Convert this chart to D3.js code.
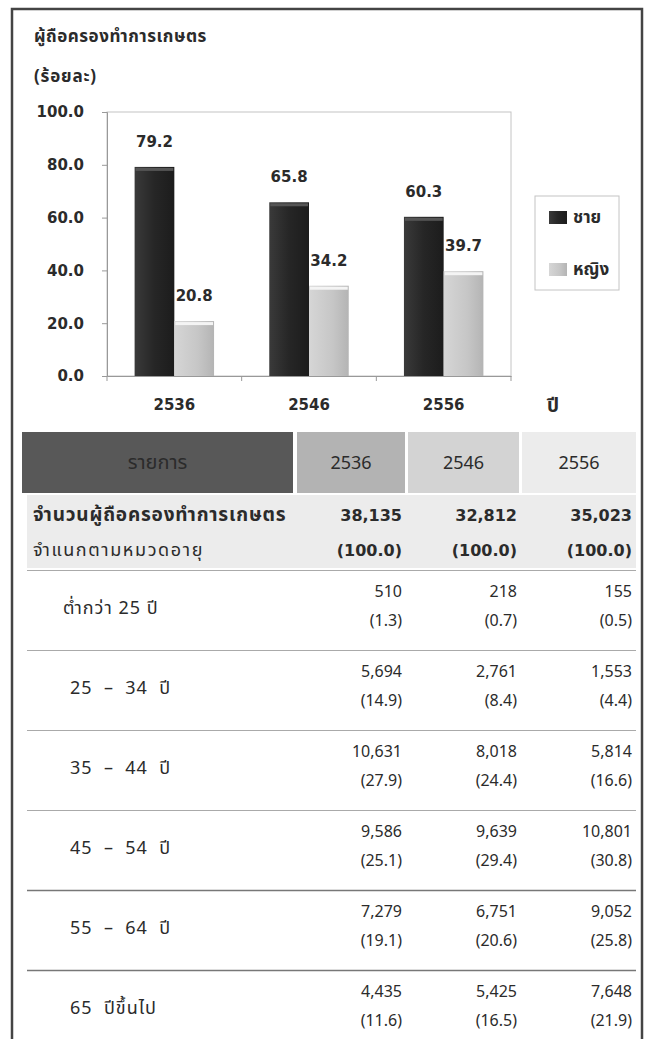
<!DOCTYPE html>
<html>
<head>
<meta charset="utf-8">
<script src="https://cdn.jsdelivr.net/npm/d3@7"></script>
<style>
  body { margin:0; background:#fff; }
  svg text { font-family: Tahoma, "Noto Sans Thai", "Noto Sans", "DejaVu Sans", sans-serif; fill:#2b2b2b; }
  svg text.num { font-family: "DejaVu Sans", Tahoma, sans-serif; }
</style>
</head>
<body>
<svg id="chart"></svg>
<script>
// chart data
var years = ["2536", "2546", "2556"];
var seriesNames = ["ชาย", "หญิง"];
var male = [79.2, 65.8, 60.3];
var female = [20.8, 34.2, 39.7];
var yTicks = [0, 20, 40, 60, 80, 100];

// table data
var totalCounts = [38135, 32812, 35023];
var totalPcts = [100.0, 100.0, 100.0];
var ageGroups = ["ต่ำกว่า 25 ปี", "25  –  34  ปี", "35  –  44  ปี", "45  –  54  ปี", "55  –  64  ปี", "65  ปีขึ้นไป"];
var ageCounts = [
  [510, 218, 155],
  [5694, 2761, 1553],
  [10631, 8018, 5814],
  [9586, 9639, 10801],
  [7279, 6751, 9052],
  [4435, 5425, 7648]
];
var agePcts = [
  [1.3, 0.7, 0.5],
  [14.9, 8.4, 4.4],
  [27.9, 24.4, 16.6],
  [25.1, 29.4, 30.8],
  [19.1, 20.6, 25.8],
  [11.6, 16.5, 21.9]
];

var screen = {width:649, height:1039};
var svg = d3.select("#chart").attr("width", screen.width).attr("height", screen.height);

// gradients for the bars
var defs = svg.append("defs");
var gDark = defs.append("linearGradient").attr("id","gDark").attr("x1",0).attr("x2",1).attr("y1",0).attr("y2",0);
gDark.append("stop").attr("offset","0%").attr("stop-color","#3a3a3a");
gDark.append("stop").attr("offset","50%").attr("stop-color","#262626");
gDark.append("stop").attr("offset","100%").attr("stop-color","#1c1c1c");
var gLight = defs.append("linearGradient").attr("id","gLight").attr("x1",0).attr("x2",1).attr("y1",0).attr("y2",0);
gLight.append("stop").attr("offset","0%").attr("stop-color","#d6d6d6");
gLight.append("stop").attr("offset","60%").attr("stop-color","#c6c6c6");
gLight.append("stop").attr("offset","100%").attr("stop-color","#b4b4b4");

// outer frame (open at bottom)
svg.append("path")
  .attr("d", "M12,1039 L12,9 L642,9 L642,1039")
  .attr("fill","none").attr("stroke","#444").attr("stroke-width",2.5);

// titles
svg.append("text").attr("x",34).attr("y",42).attr("font-size",17).attr("font-weight","bold")
  .attr("letter-spacing",0.5)
  .text("ผู้ถือครองทำการเกษตร");
svg.append("text").attr("x",34).attr("y",82).attr("font-size",17).attr("font-weight","bold")
  .attr("letter-spacing",0.8)
  .text("(ร้อยละ)");

// scales
var plot = {left:107, right:511, top:112, bottom:376};
var xScale = d3.scaleBand().domain(years).range([plot.left, plot.right]).paddingInner(0.41).paddingOuter(0.205);
var xSub = d3.scaleBand().domain(seriesNames).range([0, xScale.bandwidth()]);
var yScale = d3.scaleLinear().domain([0,100]).range([plot.bottom, plot.top]);

// plot frame
svg.append("rect")
  .attr("x",plot.left).attr("y",plot.top)
  .attr("width",plot.right-plot.left).attr("height",plot.bottom-plot.top)
  .attr("fill","none").attr("stroke","#c4c4c4").attr("stroke-width",1);

// y axis
var yAxis = d3.axisLeft(yScale).tickValues(yTicks).tickSize(5).tickFormat(d3.format(".1f"));
var yG = svg.append("g").attr("transform","translate("+plot.left+",0)").call(yAxis);
yG.select(".domain").attr("stroke","#999");
yG.selectAll(".tick line").attr("stroke","#999");
yG.selectAll(".tick text").attr("class","num")
  .attr("x",-23).attr("font-size",15).attr("font-weight","bold").attr("fill","#2b2b2b");

// x axis
var xAxis = d3.axisBottom(xScale).tickSize(0).tickPadding(23);
var xG = svg.append("g").attr("transform","translate(0,"+plot.bottom+")").call(xAxis);
xG.select(".domain").attr("stroke","#999");
xG.selectAll(".tick text").attr("class","num").attr("font-size",15).attr("font-weight","bold").attr("fill","#2b2b2b");
// boundary ticks between categories
var step = xScale.step();
xG.selectAll(".bound").data(d3.range(years.length+1)).enter().append("line")
  .attr("x1", function(i){ return plot.left + i*step; })
  .attr("x2", function(i){ return plot.left + i*step; })
  .attr("y1",0).attr("y2",5).attr("stroke","#999");

svg.append("text").attr("x",547).attr("y",412).attr("font-size",19).attr("font-weight","bold").text("ปี");

// bars
var rows = years.map(function(y,i){ return {year:y, values:[{name:seriesNames[0], v:male[i]},{name:seriesNames[1], v:female[i]}]}; });
var groups = svg.selectAll(".grp").data(rows).enter().append("g")
  .attr("transform", function(d){ return "translate("+xScale(d.year)+",0)"; });

groups.selectAll("rect.bar").data(function(d){ return d.values; }).enter().append("rect")
  .attr("class","bar")
  .attr("x", function(d){ return xSub(d.name); })
  .attr("y", function(d){ return yScale(d.v); })
  .attr("width", xSub.bandwidth())
  .attr("height", function(d){ return yScale(0)-yScale(d.v); })
  .attr("fill", function(d){ return d.name==seriesNames[0] ? "url(#gDark)" : "url(#gLight)"; });

// top highlight of the bars
groups.selectAll("rect.cap").data(function(d){ return d.values; }).enter().append("rect")
  .attr("class","cap")
  .attr("x", function(d){ return xSub(d.name)+1; })
  .attr("y", function(d){ return yScale(d.v)+1; })
  .attr("width", xSub.bandwidth()-2)
  .attr("height", 3)
  .attr("fill", function(d){ return d.name==seriesNames[0] ? "#555" : "#f4f4f4"; });

groups.selectAll("text.val").data(function(d){ return d.values; }).enter().append("text")
  .attr("class","val num")
  .attr("x", function(d){ return xSub(d.name)+xSub.bandwidth()/2; })
  .attr("y", function(d){ return yScale(d.v)-20; })
  .attr("text-anchor","middle").attr("font-size",15).attr("font-weight","bold")
  .text(function(d){ return d3.format(".1f")(d.v); });

// legend
svg.append("rect").attr("x",535).attr("y",196).attr("width",84).attr("height",94)
  .attr("fill","#fff").attr("stroke","#c4c4c4");
var legend = svg.selectAll(".leg").data(seriesNames).enter().append("g")
  .attr("transform", function(d,i){ return "translate(549,"+(211+i*52)+")"; });
legend.append("rect").attr("width",18).attr("height",13)
  .attr("fill", function(d,i){ return i==0 ? "url(#gDark)" : "url(#gLight)"; });
legend.append("text").attr("x",24).attr("y",12).attr("font-size",17).attr("font-weight","bold")
  .text(function(d){ return d; });

// table
var colX = [22, 297, 408, 522];
var colW = [271, 108, 111, 114];
var headFill = ["#585858", "#b3b3b3", "#d3d3d3", "#ececec"];
var headText = ["รายการ"].concat(years);
var tableRight = 636;

svg.selectAll(".hcell").data(headText).enter().append("rect")
  .attr("x", function(d,i){ return colX[i]; }).attr("y",432)
  .attr("width", function(d,i){ return colW[i]; }).attr("height",61)
  .attr("fill", function(d,i){ return headFill[i]; });
svg.selectAll(".htext").data(headText).enter().append("text")
  .attr("x", function(d,i){ return colX[i]+colW[i]/2; }).attr("y",469)
  .attr("text-anchor","middle")
  .attr("font-size", function(d,i){ return i==0 ? 20 : 18; })
  .attr("fill", function(d,i){ return i==0 ? "#303030" : "#2b2b2b"; })
  .text(function(d){ return d; });

// totals row
svg.append("rect").attr("x",27).attr("y",495).attr("width",tableRight-27).attr("height",73).attr("fill","#ececec");
svg.append("text").attr("x",33).attr("y",521).attr("font-size",19).attr("font-weight","bold")
  .attr("letter-spacing",0.8)
  .text("จำนวนผู้ถือครองทำการเกษตร");
svg.append("text").attr("x",33).attr("y",556).attr("font-size",18).attr("letter-spacing",1.6)
  .text("จำแนกตามหมวดอายุ");
var valRight = [402, 517, 632];
svg.selectAll(".tot").data(totalCounts).enter().append("text")
  .attr("class","num")
  .attr("x", function(d,i){ return valRight[i]; }).attr("y",521)
  .attr("text-anchor","end").attr("font-size",16).attr("font-weight","bold")
  .text(function(d){ return d3.format(",")(d); });
svg.selectAll(".totp").data(totalPcts).enter().append("text")
  .attr("class","num")
  .attr("x", function(d,i){ return valRight[i]; }).attr("y",556)
  .attr("text-anchor","end").attr("font-size",16).attr("font-weight","bold")
  .text(function(d){ return "(" + d3.format(".1f")(d) + ")"; });

// age rows
var rowScale = d3.scaleLinear().domain([0,1]).range([570, 650]);
var ageRows = ageGroups.map(function(g,i){ return {label:g, counts:ageCounts[i], pcts:agePcts[i], i:i}; });
var ag = svg.selectAll(".age").data(ageRows).enter().append("g")
  .attr("transform", function(d){ return "translate(0,"+rowScale(d.i)+")"; });
ag.append("line").attr("x1",27).attr("x2",tableRight).attr("y1",0.5).attr("y2",0.5)
  .attr("stroke", function(d){ return d.i>=4 ? "#777" : "#aaa"; })
  .attr("stroke-width", function(d){ return d.i>=4 ? 1.5 : 1; });
ag.append("text").attr("x", function(d){ return d.i==0 ? 63 : 70; }).attr("y",44).attr("font-size",18)
  .attr("letter-spacing",1)
  .attr("xml:space","preserve")
  .text(function(d){ return d.label; });
ag.selectAll(".c").data(function(d){ return d.counts; }).enter().append("text")
  .attr("x", function(d,i){ return valRight[i]; }).attr("y",27)
  .attr("text-anchor","end").attr("font-size",16)
  .text(function(d){ return d3.format(",")(d); });
ag.selectAll(".p").data(function(d){ return d.pcts; }).enter().append("text")
  .attr("x", function(d,i){ return valRight[i]; }).attr("y",56)
  .attr("text-anchor","end").attr("font-size",16)
  .text(function(d){ return "(" + d3.format(".1f")(d) + ")"; });
</script>
</body>
</html>
